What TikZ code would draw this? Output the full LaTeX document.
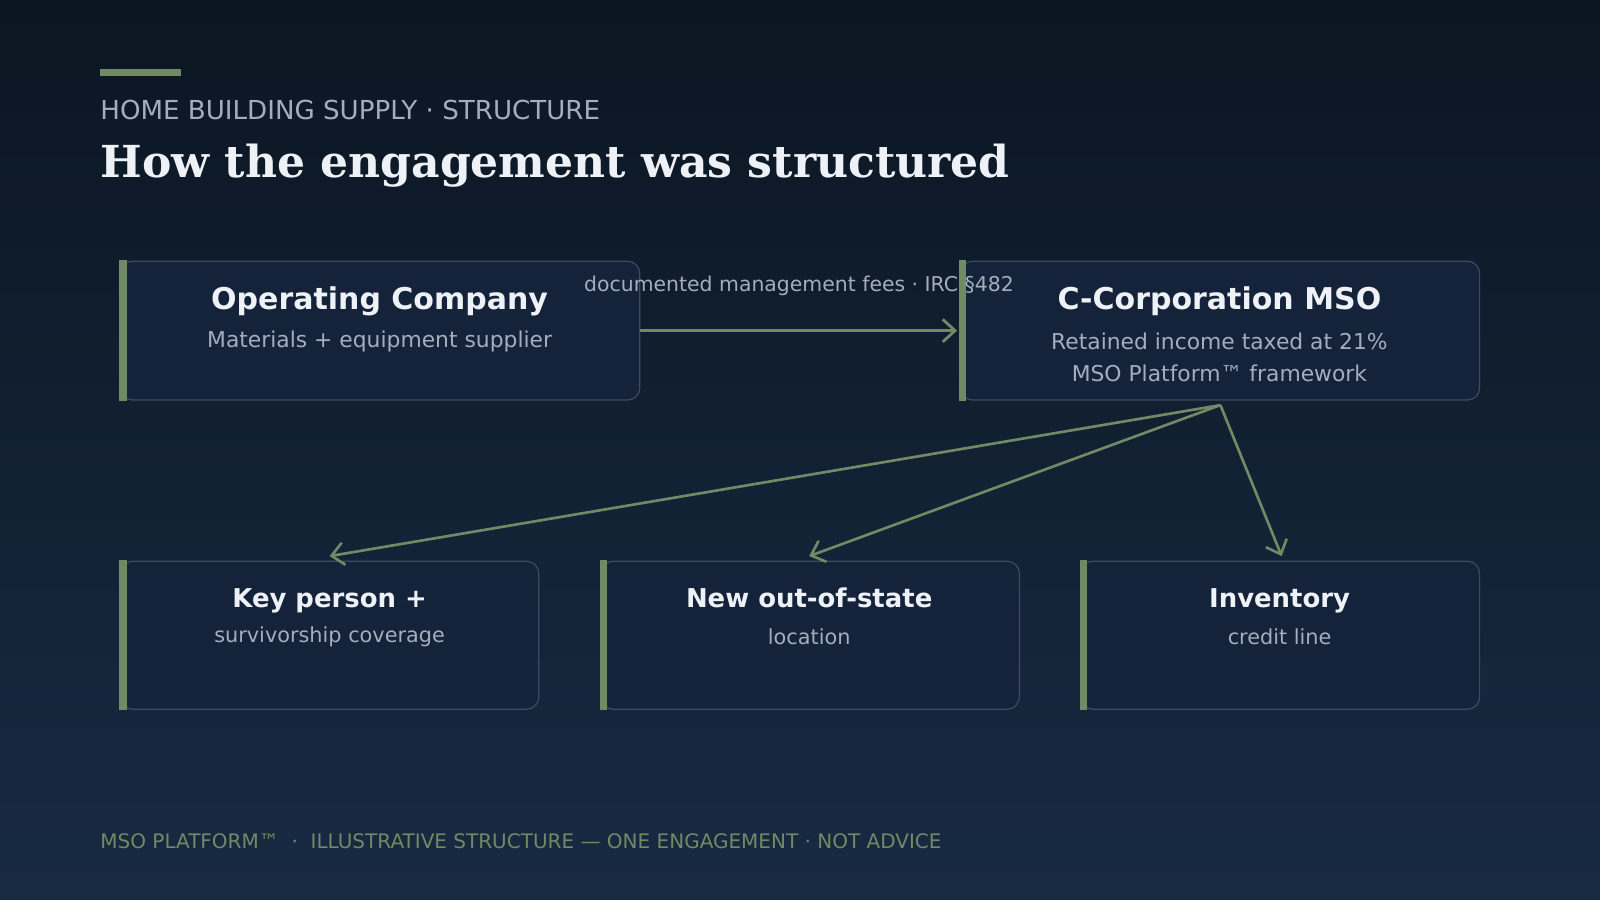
\documentclass[tikz,border=0pt]{standalone}
\usepackage{fontspec}
\setmainfont{DejaVu Sans}
\newfontfamily\titlefont{DejaVu Serif}
\usetikzlibrary{arrows.meta}
\definecolor{bgtop}{HTML}{0B1622}
\definecolor{bgbot}{HTML}{182A42}
\definecolor{acc}{HTML}{6F8A64}
\definecolor{bord}{HTML}{3E4B5E}
\definecolor{boxfill}{HTML}{14233A}
\definecolor{titlec}{HTML}{EEF1F5}
\definecolor{subc}{HTML}{A3AEBD}
\begin{document}
\begin{tikzpicture}[x=0.5pt,y=-0.5pt,
  box/.style={draw=bord,line width=0.6pt,fill=boxfill,rounded corners=6pt},
  head/.style={text=titlec,font=\fontsize{14.7}{18}\selectfont\bfseries},
  shead/.style={text=titlec,font=\fontsize{12.7}{16}\selectfont\bfseries},
  sub/.style={text=subc,font=\fontsize{10.7}{15.5}\selectfont,align=center},
  ssub/.style={text=subc,font=\fontsize{10.2}{14}\selectfont,align=center},
  link/.style={draw=acc,line width=1.6pt,-{Straight Barb[length=6pt,width=11pt,line width=1.4pt]}},
  fan/.style={draw=acc,line width=1.3pt,-{Straight Barb[length=6pt,width=11pt,line width=1.3pt]}}]
\shade[top color=bgtop,bottom color=bgbot] (0,0) rectangle (1568,882);
\useasboundingbox (0,0) rectangle (1568,882);
\fill[acc] (98,68) rectangle (177,74);
\node[anchor=base west,text=subc,font=\fontsize{12.8}{15}\selectfont,inner sep=0] (kick) at (98,117) {HOME BUILDING SUPPLY · STRUCTURE};
\node[anchor=base west,text=titlec,font=\titlefont\fontsize{21.6}{26}\selectfont\bfseries,inner sep=0] (ttl) at (98,174) {How the engagement was structured};
% boxes
\path[box] (118,256) rectangle (627,392);
\fill[acc] (117,255) rectangle (124,393);
\node[head] (opco) at (372,295) {Operating Company};
\node[sub] (opcos) at (372,335) {Materials + equipment supplier};
\path[box] (941,256) rectangle (1450,392);
\fill[acc] (940,255) rectangle (947,393);
\node[head] (mso) at (1195,295) {C-Corporation MSO};
\node[sub] (msos) at (1195,350) {Retained income taxed at 21\%\\MSO Platform™ framework};
\foreach \a/\b/\c/\t/\s in {118/528/323/Key person +/survivorship coverage,589/999/793/New out-of-state/location,1059/1450/1254/Inventory/credit line}{
  \path[box] (\a,550) rectangle (\b,695);
  \fill[acc] (\a-1,549) rectangle (\a+6,696);
  \node[shead,anchor=base] at (\c,595) {\t};
  \node[ssub] at (\c,624) {\s};
}
\coordinate (kp) at (323,545);
\coordinate (ns) at (793,545);
\coordinate (inv) at (1256,545);
\coordinate (opr) at (627,324);
\coordinate (msl) at (938,324);
\coordinate (src) at (1196,397);
\draw[link] (opr) -- (msl);
\node[text=subc,font=\fontsize{10}{12}\selectfont] (fee) at (783,280) {documented management fees · IRC §482};
\draw[fan] (src) -- (kp);
\draw[fan] (src) -- (ns);
\draw[fan] (src) -- (inv);
\node[anchor=base west,text=acc,font=\fontsize{9.8}{12}\selectfont,inner sep=0] (foot) at (98,832) {MSO PLATFORM™ \ ·\ \ ILLUSTRATIVE STRUCTURE — ONE ENGAGEMENT · NOT ADVICE};
\end{tikzpicture}
\end{document}
